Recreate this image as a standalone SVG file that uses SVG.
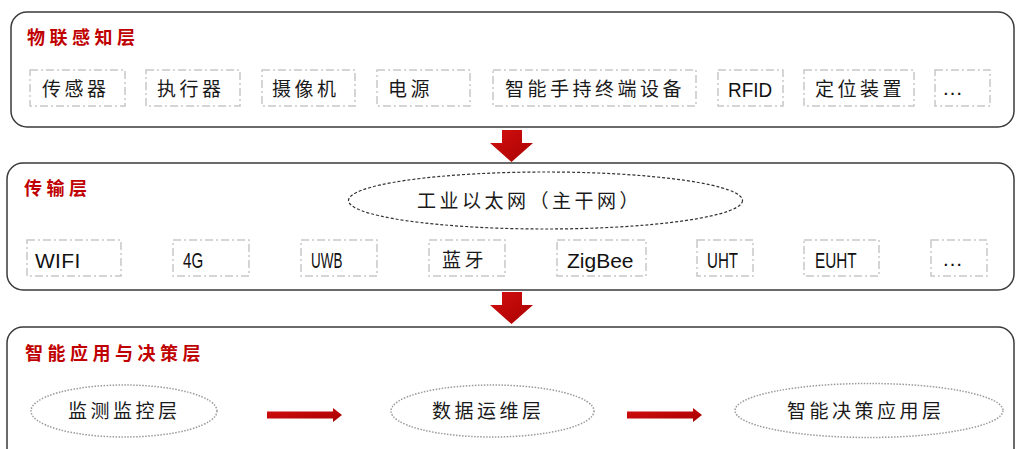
<svg xmlns="http://www.w3.org/2000/svg" width="1016" height="449" viewBox="0 0 1016 449">
<style>
.layer{fill:#fff;stroke:#3a3a3a;stroke-width:1.5}
.item{fill:#fff;stroke:#c8c8c8;stroke-width:1.5;stroke-dasharray:8 3 2 3}
.title{font-family:"Noto Sans CJK SC",sans-serif;font-size:18px;font-weight:bold;fill:#c00000;letter-spacing:4.5px}
.cn{font-family:"Noto Sans CJK SC",sans-serif;font-size:19px;fill:#1a1a1a;letter-spacing:3.5px}
.en{font-family:"Liberation Sans","Noto Sans CJK SC",sans-serif;font-size:21px;fill:#111}
.bb{fill:none;stroke:#333;stroke-width:1.2;stroke-dasharray:3 2}
.dot{fill:none;stroke:#9a9a9a;stroke-width:1.5;stroke-dasharray:1.5 1.5}
.arr{fill:url(#rg)}
</style>
<defs>
<linearGradient id="rg" x1="0" y1="0" x2="1" y2="1">
<stop offset="0" stop-color="#d41010"/>
<stop offset="1" stop-color="#a80000"/>
</linearGradient>
</defs>
<rect width="1016" height="449" fill="#fff"/>

<g id="layer-perception">
<rect class="layer" x="11" y="12" width="1003" height="115" rx="16"/>
<text class="title" x="27" y="44">物联感知层</text>
<g id="p1"><rect class="item" x="30" y="70" width="95" height="36"/><text class="cn" x="42" y="96">传感器</text></g>
<g id="p2"><rect class="item" x="146" y="70" width="94" height="36"/><text class="cn" x="157" y="96">执行器</text></g>
<g id="p3"><rect class="item" x="262" y="70" width="93" height="36"/><text class="cn" x="272" y="96">摄像机</text></g>
<g id="p4"><rect class="item" x="377" y="70" width="93" height="36"/><text class="cn" x="388" y="96">电源</text></g>
<g id="p5"><rect class="item" x="493" y="70" width="203" height="36"/><text class="cn" x="505" y="96" letter-spacing="3">智能手持终端设备</text></g>
<g id="p6"><rect class="item" x="718" y="70" width="65" height="36"/><text class="en" transform="translate(728,97) scale(0.9,1)">RFID</text></g>
<g id="p7"><rect class="item" x="804" y="70" width="110" height="36"/><text class="cn" x="815" y="96">定位装置</text></g>
<g id="p8"><rect class="item" x="935" y="70" width="55" height="36"/><text class="en" x="942" y="95">…</text></g>
</g>

<g id="layer-transport">
<rect class="layer" x="7" y="163" width="1007" height="127" rx="16"/>
<text class="title" x="24" y="195">传输层</text>
<g id="t0"><ellipse class="bb" cx="545.5" cy="200.5" rx="197" ry="28.5"/><text class="cn" x="417" y="208" letter-spacing="2.6">工业以太网（主干网）</text></g>
<g id="t1"><rect class="item" x="27" y="240" width="94" height="36"/><text class="en" x="35" y="268" letter-spacing="0.3">WIFI</text></g>
<g id="t2"><rect class="item" x="173" y="240" width="76" height="36"/><text class="en" transform="translate(183,268) scale(0.72,1.05)">4G</text></g>
<g id="t3"><rect class="item" x="301" y="240" width="76" height="36"/><text class="en" transform="translate(311,268) scale(0.64,1.05)">UWB</text></g>
<g id="t4"><rect class="item" x="429" y="240" width="76" height="36"/><text class="cn" x="442" y="267">蓝牙</text></g>
<g id="t5"><rect class="item" x="557" y="240" width="89" height="36"/><text class="en" x="567" y="268">ZigBee</text></g>
<g id="t6"><rect class="item" x="697" y="240" width="56" height="36"/><text class="en" transform="translate(707,268) scale(0.72,1.05)">UHT</text></g>
<g id="t7"><rect class="item" x="804" y="240" width="75" height="36"/><text class="en" transform="translate(815,268) scale(0.73,1.05)">EUHT</text></g>
<g id="t8"><rect class="item" x="931" y="240" width="56" height="36"/><text class="en" x="942" y="266">…</text></g>
</g>

<g id="layer-application">
<rect class="layer" x="7" y="327" width="1007" height="140" rx="16"/>
<text class="title" x="25" y="360">智能应用与决策层</text>
<g id="a1"><ellipse class="dot" cx="124" cy="411" rx="93" ry="26"/><text class="cn" x="68" y="418">监测监控层</text></g>
<g id="a2"><ellipse class="dot" cx="492.5" cy="411" rx="101.5" ry="26"/><text class="cn" x="432" y="418">数据运维层</text></g>
<g id="a3"><ellipse class="dot" cx="869" cy="410.5" rx="134" ry="27"/><text class="cn" x="787" y="418">智能决策应用层</text></g>
</g>

<g id="connectors">
<polygon class="arr" points="502,130 522,130 522,143 533,143 511.5,162 490,143 502,143"/>
<polygon class="arr" points="502,292 522,292 522,305 533,305 511.5,324 490,305 502,305"/>
<polygon class="arr" points="267,411.5 333,411.5 333,408 342,415 333,422 333,418.5 267,418.5"/>
<polygon class="arr" points="627,411.5 693,411.5 693,408 702,415 693,422 693,418.5 627,418.5"/>
</g>
</svg>
